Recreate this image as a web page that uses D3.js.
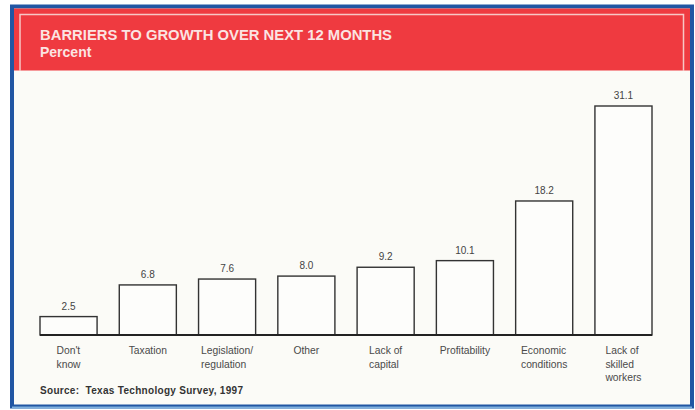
<!DOCTYPE html>
<html>
<head>
<meta charset="utf-8">
<script src="https://cdn.jsdelivr.net/npm/d3@7"></script>
<style>
  html, body { margin: 0; padding: 0; background: #ffffff; }
  svg { display: block; }
</style>
</head>
<body>
<svg id="chart" width="695" height="410"></svg>
<script>
// ---- Data ----
const categories = [
  ["Don't", "know"],
  ["Taxation"],
  ["Legislation/", "regulation"],
  ["Other"],
  ["Lack of", "capital"],
  ["Profitability"],
  ["Economic", "conditions"],
  ["Lack of", "skilled", "workers"]
];
const values = [2.5, 6.8, 7.6, 8.0, 9.2, 10.1, 18.2, 31.1];
const valueLabels = ["2.5", "6.8", "7.6", "8.0", "9.2", "10.1", "18.2", "31.1"];
const titleText = "BARRIERS TO GROWTH OVER NEXT 12 MONTHS";
const subtitleText = "Percent";
const sourceText = "Source:  Texas Technology Survey, 1997";

// ---- Drawing ----
const svg = d3.select("#chart");
const font = "'Liberation Sans', Arial, Helvetica, sans-serif";

// outer frame
svg.append("rect").attr("x", 12).attr("y", 6.5).attr("width", 680).attr("height", 400)
  .attr("fill", "#fbfbf7").attr("stroke", "#2156a3").attr("stroke-width", 4);
svg.append("line").attr("x1", 12).attr("x2", 692).attr("y1", 407.5).attr("y2", 407.5)
  .attr("stroke", "#7fb0de").attr("stroke-width", 2);

// red header
svg.append("rect").attr("x", 14).attr("y", 8.5).attr("width", 676).attr("height", 62)
  .attr("fill", "#ef3a40");
svg.append("path")
  .attr("d", "M20,71 L20,14.5 L683.5,14.5 L683.5,71")
  .attr("fill", "none").attr("stroke", "#f7c7c5").attr("stroke-width", 1.5);

svg.append("text").attr("x", 40).attr("y", 39.5)
  .attr("font-family", font).attr("font-weight", "bold").attr("font-size", 14)
  .attr("textLength", 352).attr("lengthAdjust", "spacingAndGlyphs")
  .attr("fill", "#fbe4e2").text(titleText);
svg.append("text").attr("x", 40).attr("y", 56.5)
  .attr("font-family", font).attr("font-weight", "bold").attr("font-size", 14)
  .attr("fill", "#fbe4e2").text(subtitleText);

// scales
const idx = d3.range(values.length);
const x = d3.scaleBand().domain(idx).range([40, 652]).paddingInner(0.28).paddingOuter(0);
const y = d3.scaleLinear().domain([0, 31.1]).range([335, 106]);

// bars
svg.append("g").selectAll("rect").data(idx).join("rect")
  .attr("x", i => x(i))
  .attr("y", i => y(values[i]))
  .attr("width", x.bandwidth())
  .attr("height", i => y(0) - y(values[i]))
  .attr("fill", "#fdfdfb")
  .attr("stroke", "#333333").attr("stroke-width", 1.4);

// baseline
svg.append("line").attr("x1", 40).attr("x2", 652).attr("y1", y(0)).attr("y2", y(0))
  .attr("stroke", "#222").attr("stroke-width", 2);

// value labels
svg.append("g").selectAll("text").data(idx).join("text")
  .attr("x", i => x(i) + x.bandwidth() / 2)
  .attr("y", i => y(values[i]) - 7)
  .attr("text-anchor", "middle")
  .attr("font-family", font).attr("font-size", 10).attr("fill", "#444")
  .text(i => valueLabels[i]);

// category labels: left-aligned block centred under bar
const catG = svg.append("g");
idx.forEach(i => {
  const t = catG.append("text")
    .attr("font-family", font).attr("font-size", 10.3).attr("fill", "#4a4a4a");
  categories[i].forEach((line, k) => {
    t.append("tspan").attr("x", 0).attr("y", 354 + k * 13.5).text(line);
  });
  let maxW = 0;
  t.selectAll("tspan").each(function () { maxW = Math.max(maxW, this.getComputedTextLength()); });
  const cx = x(i) + x.bandwidth() / 2;
  t.selectAll("tspan").attr("x", cx - maxW / 2);
});

// source
svg.append("text").attr("x", 40).attr("y", 394)
  .attr("font-family", font).attr("font-weight", "bold").attr("font-size", 10)
  .attr("textLength", 203).attr("lengthAdjust", "spacing")
  .attr("fill", "#333").attr("xml:space", "preserve").style("white-space", "pre")
  .text(sourceText);
</script>
</body>
</html>
